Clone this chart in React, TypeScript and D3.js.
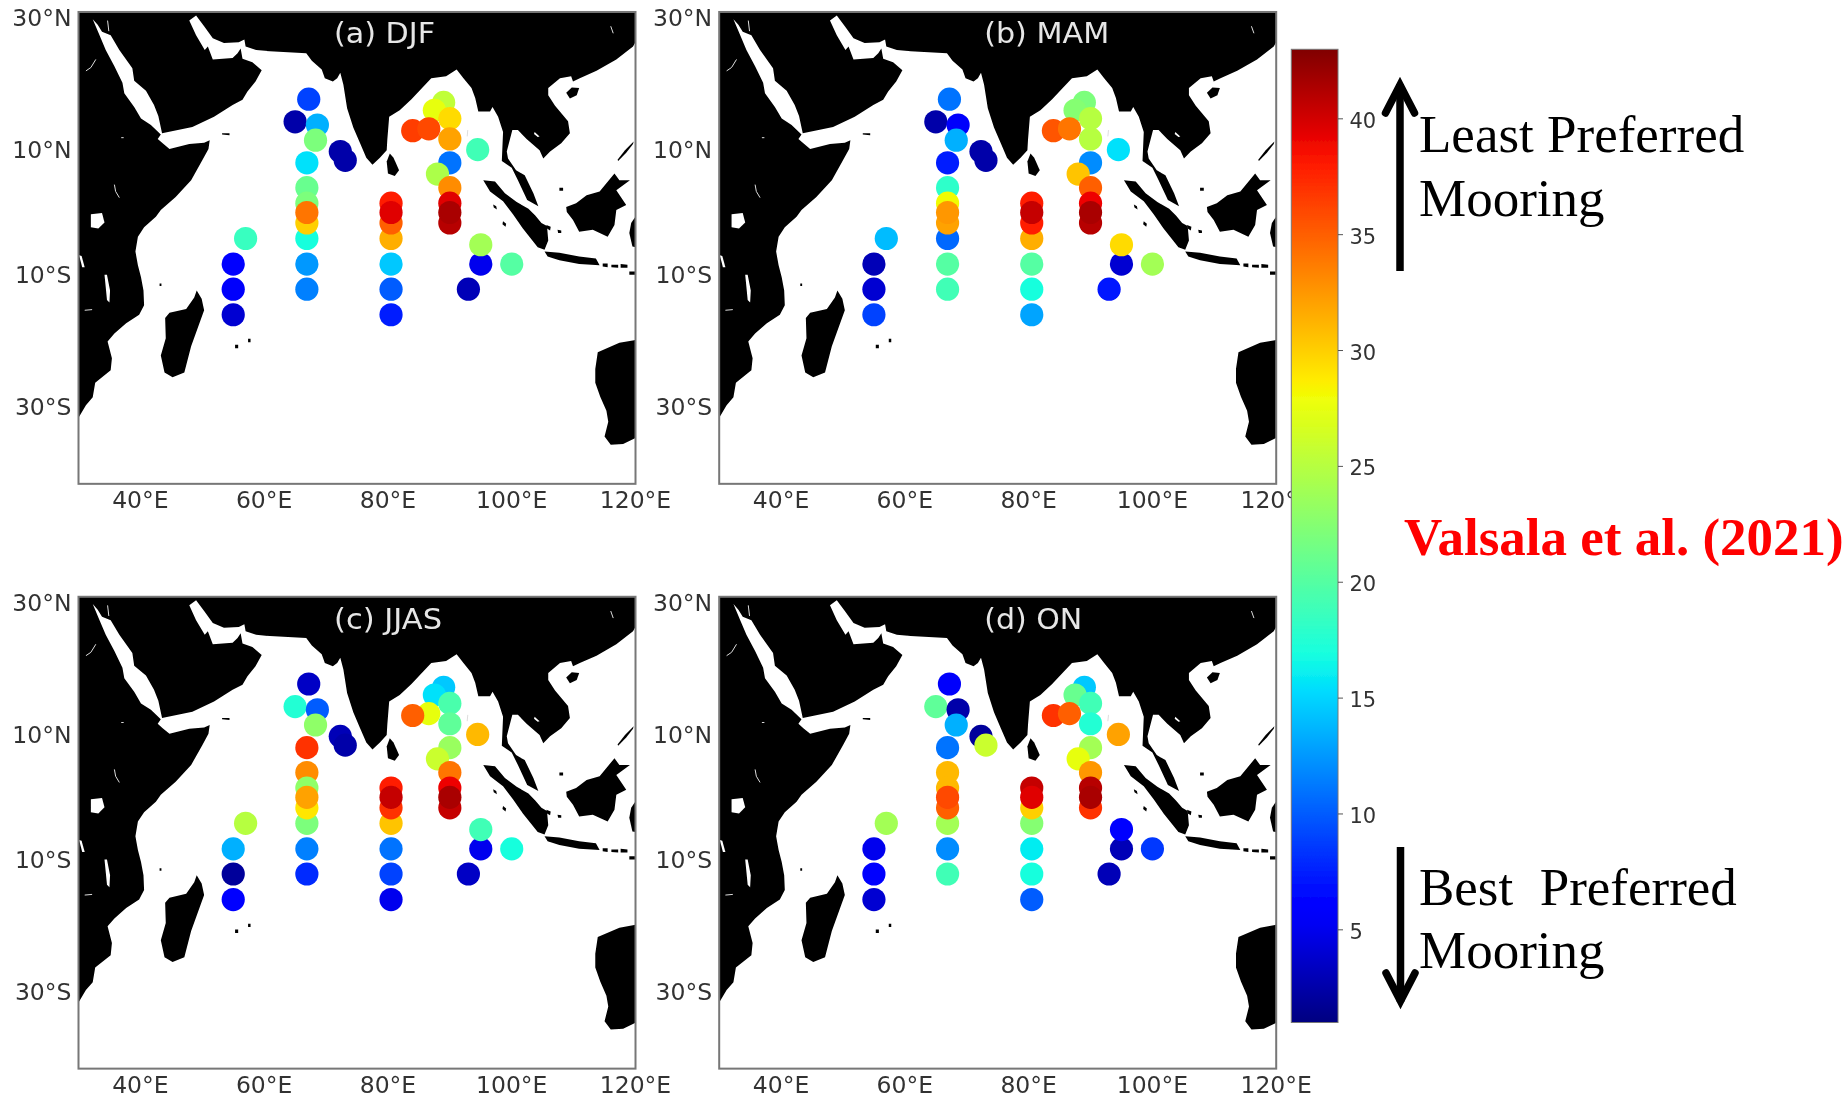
import React from 'react'
import * as d3 from 'd3'

// ---- data ----
const seasons = ['(a) DJF', '(b) MAM', '(c) JJAS', '(d) ON']
const titleWidths = [101, 125, 108, 98]
const lonTicks = [40, 60, 80, 100, 120]
const latTicks = [30, 10, -10, -30]
const barTicks = [5, 10, 15, 20, 25, 30, 35, 40]

// moorings, listed in drawing order
const stationLons = [
	67.2, 65, 68.6, 68.3, 72.3, 73.1,
	66.9, 66.9, 66.9, 66.9, 66.9, 66.9, 66.9, 66.9,
	80.5, 80.5, 80.5, 80.5, 80.5, 80.5, 80.5,
	55, 55, 55, 57,
	89, 87.5, 90, 90, 84, 86.6, 90, 88, 90, 90, 90, 90,
	94.5, 95, 95, 100, 93,
]
const stationLats = [
	18, 14.5, 14, 11.6, 9.8, 8.4,
	8, 4, -8.3, -12.3, -4.2, 1.5, -1.7, 0,
	-16.3, -12.3, -8.3, -4.2, 1.5, -1.7, 0,
	-16.3, -12.3, -8.3, -4.2,
	17.5, 16.3, 15, 11.8, 13.1, 13.4, 8, 6.2, 4, 1.5, -1.7, 0,
	10.1, -8.3, -5.2, -8.3, -12.3,
]
const valuesDJF = [
	9, 2.5, 13.5, 22, 2.5, 2.5,
	15.5, 21, 12.5, 11.5, 17, 22, 30, 34,
	7.5, 10, 14.5, 31.5, 38, 35, 39.5,
	4, 5.5, 6, 18.5,
	25.5, 27.5, 29.5, 32, 36.5, 36, 11, 24.5, 33, 39.5, 41, 41.5,
	19, 5, 24, 20, 3,
]
const valuesMAM = [
	11, 2.5, 5.5, 13.5, 2.5, 2.5,
	7.5, 18, 20, 19, 10.5, 28, 32, 32.5,
	13, 17, 20, 31.5, 38, 38, 40.5,
	9, 4, 3, 14,
	22, 22.5, 25, 25, 35.5, 34, 12, 30.5, 35, 39, 41, 41.5,
	15.5, 4, 29.5, 24, 7,
]
const valuesJJAS = [
	3.5, 17.5, 10, 23, 3, 2.5,
	37, 33, 11.5, 8, 22, 23, 29, 32,
	5, 9, 11, 30.5, 38, 37, 40.5,
	6, 2, 13.5, 25,
	14.5, 15.5, 19.5, 20.5, 35, 27.5, 23.5, 26, 34, 39, 40.5, 41.5,
	31, 5, 19, 17, 3.5,
]
const valuesON = [
	5.5, 20.5, 2.5, 13.5, 2, 26,
	11, 31, 12, 19, 24, 31, 35, 36,
	10, 17, 16, 22.5, 40.5, 30, 39.5,
	4, 6.5, 5, 24,
	14.5, 21, 19, 17.5, 37, 35, 24, 27.5, 32.5, 41, 37, 41.5,
	32, 3, 6, 8.5, 3,
]
const panelValues = [valuesDJF, valuesMAM, valuesJJAS, valuesON]
// in JJAS the orange Bay of Bengal point sits over its neighbour
const drawLast = [-1, -1, 29, -1]

// coastlines in lon/lat, traced by hand
const mainland: [number, number][] = [
	[29, -31.5], [30.1, -31.3], [31.2, -29.7], [32.3, -28.6], [32.7, -26.5], [35.2, -24.7], [35.4, -22.9], [34.7, -20.4],
	[35.8, -19.2], [37.7, -17.6], [39.8, -16.3], [40.6, -14.8], [40.5, -12.5], [40.1, -10.4], [39.6, -8.5], [39.2, -6.3],
	[39.6, -3.9], [40.6, -2.4], [42.5, -0.7], [43.3, 0.4], [45.7, 2.5], [48.2, 5.2], [50, 8.4], [51, 10.2], [51.2, 11.6],
	[50.3, 11.2], [47.9, 11], [44.7, 10.2], [43.6, 11.1], [42.8, 11.8], [43.3, 12.5],
	// Red Sea, west shore then east shore
	[41.7, 14], [40.1, 15], [39, 16.8], [37.4, 18.9], [37.1, 20.5], [35.8, 23], [34.4, 25.4], [33.4, 27.5], [32.3, 29.8],
	[33.1, 29], [33.8, 28], [35.2, 27.5], [36.6, 25.4], [38.7, 22.7], [39, 20.8], [40.9, 19.3], [42.2, 17.1], [42.9, 15.4], [43.5, 12.7],
	// Arabia and the Gulf
	[48.4, 13.7], [51.9, 15.3], [54.9, 17.1], [56.5, 17.9], [57.3, 19.2], [58.6, 20.7], [59.6, 22.4], [58.1, 23.6], [56.5, 24.1],
	[56.2, 25.6], [55.7, 24.9], [54.9, 24.2], [51.7, 24], [50.9, 25.9], [50.4, 25.4], [49, 27.5], [47.9, 29.6], [49, 30.3],
	[50.3, 28.8], [51.7, 27.1], [53.5, 26.4], [55.9, 26.5], [56.8, 26.9], [57, 25.9], [58.7, 25.4], [60.9, 25.2], [66.8, 24.9],
	// India
	[67.7, 23.8], [69.3, 22.5], [69.8, 21.2], [71.1, 20.7], [71.8, 21.2], [72.3, 22], [72.8, 20.2], [73.4, 16.6], [74.4, 13.6],
	[75.5, 11.1], [76.5, 8.8], [77.5, 7.7], [78.7, 8.8], [79.8, 10], [79.9, 11.7], [80.2, 15.3], [81.9, 16.3], [83.8, 18],
	[85.7, 19.9], [87, 21.2], [89.4, 21.5], [91.1, 22.5],
	// Myanmar, Malaya, Indochina, China
	[92.2, 21.2], [93.5, 19.7], [94.1, 18.2], [94.6, 16.1], [96.5, 16.1], [96.9, 16.8], [97.8, 15.3], [98.6, 12.9], [98.4, 8.3],
	[100, 7.2], [101, 5.2], [102.5, 2], [104.3, 1], [103.5, 3.1], [102.1, 6], [100.7, 6.8], [99.4, 8.7], [99.2, 9.8], [100.1, 13.2],
	[101, 13.2], [102.4, 11.8], [104.5, 10], [105.1, 8.7], [106.2, 9.8], [108, 11.1], [109.4, 12.7], [109.1, 14.6], [107, 17],
	[105.9, 18.6], [105.9, 19.7], [107.8, 21.2], [109.6, 21.5], [109.9, 20.7], [111, 21.2], [113.7, 22.3], [116.9, 24], [119.6, 25.9],
	[120.1, 26.7], [121, 27], [121, 33], [29, 33],
]
const islands: [number, number][][] = [
	// Sri Lanka
	[[80.3, 9.5], [80.9, 8.8], [81.8, 6.8], [81.1, 5.9], [80, 6.3], [79.8, 8.2]],
	// Hainan
	[[108.8, 19], [109.7, 19.8], [110.9, 19.7], [110.5, 18.6], [109.4, 18.1]],
	// Sumatra
	[[95.4, 5.2], [97.3, 5], [98.9, 3.1], [100.8, 1.7], [102.7, 0.6], [103.8, -0.5], [104.8, -1.7], [105.7, -2.2], [105.9, -4.5],
		[105.3, -6], [104.2, -5.6], [101.8, -2.6], [100.2, -0.3], [98.6, 1.8], [96.5, 3.4]],
	// Java and the Sundas
	[[105.3, -6.3], [107.7, -6.5], [110.9, -7.1], [113.6, -7.4], [114.2, -8.5], [110.9, -8.3], [107.7, -7.7], [105.8, -7.1]],
	[[114.7, -8.2], [115.5, -8.2], [115.5, -8.8], [114.7, -8.7]],
	[[116.1, -8.4], [117.2, -8.4], [117.2, -8.9], [116.1, -8.8]],
	[[117.6, -8.3], [118.7, -8.4], [118.7, -8.9], [117.6, -8.9]],
	[[119, -9.5], [120, -9.5], [120, -10], [119, -10]],
	// Borneo
	[[108.8, 0.9], [110.4, 1.5], [112.1, 2.8], [114.2, 3.4], [116.6, 6.3], [117.4, 5.2], [119.1, 5.2], [116.9, 3.6], [118.5, 1.2],
		[116.9, 0.4], [116.6, -2], [115.5, -3.9], [113.1, -2.8], [110.9, -3.1], [109.9, -1.2], [108.9, 0.1]],
	// Celebes
	[[119.9, -0.8], [119.3, -1.7], [119, -3.3], [119.5, -5.5], [120.5, -5.7], [120.5, -0.8]],
	// Palawan
	[[117.2, 8.3], [118.5, 9.6], [119.6, 11], [119.7, 11.4], [118.3, 10], [117.1, 8.5]],
	// small ones
	[[107.7, 4], [108.3, 4], [108.3, 3.5], [107.7, 3.5]],
	[[97, 1.3], [97.5, 1], [97.6, 0.5], [97.1, 0.8]],
	[[98.6, -1.4], [99.1, -1.8], [99, -2.3], [98.5, -1.9]],
	[[105.6, -2], [106.3, -2.3], [106.2, -2.9], [105.7, -2.6]],
	[[107.4, -2.8], [108, -2.9], [108, -3.3], [107.5, -3.3]],
	[[53.2, 12.7], [54.4, 12.7], [54.4, 12.4], [53.2, 12.5]],
	[[55.3, -20.9], [55.8, -20.9], [55.8, -21.4], [55.3, -21.4]],
	[[57.4, -20], [57.8, -20], [57.8, -20.5], [57.4, -20.5]],
	[[43.1, -11.4], [43.4, -11.4], [43.4, -11.8], [43.1, -11.8]],
	// Madagascar
	[[49.1, -12.5], [49.9, -13.8], [50.3, -15.6], [48.2, -21.1], [47.1, -25], [45.2, -25.7], [43.9, -25], [43.3, -22.5], [44.1, -19.9],
		[44, -16.8], [44.7, -16], [47.4, -15.4], [48.7, -13.6]],
	// Australia
	[[121, -19.8], [119.8, -20.2], [117.4, -20.6], [113.9, -22], [113.5, -24.5], [113.5, -26.5], [114.3, -28.5], [115.3, -30.5],
		[115.6, -32], [115, -34], [116, -35.1], [118, -35], [121, -33.8]],
]
const lakes: [number, number][][] = [
	[[32, -0.3], [33.8, -0.1], [34.2, -1.6], [33.2, -2.6], [32, -2.4]],
	[[34.2, -10], [34.6, -10], [35.1, -12.5], [35, -14.4], [34.6, -14], [34.4, -12]],
	[[30.1, -6.9], [30.5, -7], [31, -8.8], [30.6, -8.8]],
	[[103.7, 12.9], [104.5, 12.2], [104.2, 12.1], [103.6, 12.6]],
]
const thinWater: [number, number][][] = [
	[[35.8, 4.5], [36, 3.4], [36.6, 2.4]],
	[[31.2, 22.3], [32, 22.8], [32.8, 24]],
	[[31, -15.6], [32.2, -15.5]],
	[[34.7, 29.6], [34.9, 28.1]],
	[[36.9, 12], [37.3, 12]],
	[[92.9, 13.2], [92.8, 12.2]],
	[[116, 28.8], [116.4, 27.8]],
]

// ---- geometry ----
const projection = d3.geoMercator().scale(354.6).center([30, 0]).translate([78.5, 212.5])
const lonX = (lon: number) => projection([lon, 0])![0]
const latY = (lat: number) => projection([30, lat])![1]
const line = d3.line<[number, number]>().x(d => projection(d)![0]).y(d => projection(d)![1])

const frameLeft = lonX(30)
const frameRight = lonX(120)
const frameTop = latY(30.8)
const frameBottom = latY(-40.1)

const panelDx = 640.7
const panelDy = 584.8

// matplotlib's jet
const rChannel = d3.scaleLinear().domain([0, 0.35, 0.66, 0.89, 1]).range([0, 0, 255, 255, 128]).clamp(true)
const gChannel = d3.scaleLinear().domain([0, 0.125, 0.375, 0.64, 0.91, 1]).range([0, 0, 255, 255, 0, 0]).clamp(true)
const bChannel = d3.scaleLinear().domain([0, 0.11, 0.34, 0.65, 1]).range([128, 255, 255, 0, 0]).clamp(true)
const jet = (t: number) => d3.rgb(rChannel(t), gChannel(t), bChannel(t)).formatHex()

const colorT = d3.scaleLinear().domain([1, 43]).range([0, 1])
const barY = d3.scaleLinear().domain([1, 43]).range([1022.5, 49.3])
const barLeft = 1291.3
const barRight = 1338

const lonLabel = (v: number) => `${v}°E`
const latLabel = (v: number) => (v >= 0 ? `${v}°N` : `${-v}°S`)

function Panel({ index }: { index: number }) {
	const values = panelValues[index]
	const order = d3.range(values.length).filter(i => i !== drawLast[index])
	if (drawLast[index] >= 0) order.push(drawLast[index])
	const dx = index % 2 === 1 ? panelDx : 0
	const dy = index >= 2 ? panelDy : 0
	const clipId = `clip-${index}`

	return (
		<g transform={`translate(${dx},${dy})`}>
			<clipPath id={clipId}>
				<rect x={frameLeft} y={frameTop} width={frameRight - frameLeft} height={frameBottom - frameTop} />
			</clipPath>
			<g clipPath={`url(#${clipId})`}>
				<path d={line(mainland)! + 'Z'} fill="#000" />
				{islands.map((s, i) => (
					<path key={i} d={line(s)! + 'Z'} fill="#000" />
				))}
				{lakes.map((s, i) => (
					<path key={i} d={line(s)! + 'Z'} fill="#fff" />
				))}
				{thinWater.map((s, i) => (
					<path key={i} d={line(s)!} fill="none" stroke="#ddd" strokeWidth={1} />
				))}
				{order.map(i => {
					const [cx, cy] = projection([stationLons[i], stationLats[i]])!
					return <circle key={i} cx={cx} cy={cy} r={11.6} fill={jet(colorT(values[i]))} />
				})}
			</g>
			<rect
				x={frameLeft}
				y={frameTop}
				width={frameRight - frameLeft}
				height={frameBottom - frameTop}
				fill="none"
				stroke="#777"
				strokeWidth={2}
			/>
			<text
				x={index % 2 === 1 ? 343.5 : 334}
				y={index >= 2 ? 44 : 43}
				fontFamily="DejaVu Sans"
				fontSize={28}
				fill="#e6e6e6"
				textLength={titleWidths[index]}
				lengthAdjust="spacingAndGlyphs"
			>
				{seasons[index]}
			</text>
			{lonTicks.map(v => (
				<text
					key={v}
					x={lonX(v)}
					y={frameBottom + 24.5}
					textAnchor="middle"
					fontFamily="DejaVu Sans"
					fontSize={23.5}
					fill="#333"
				>
					{lonLabel(v)}
				</text>
			))}
			{latTicks.map(v => (
				<text
					key={v}
					x={71.5}
					y={latY(v) + 8}
					textAnchor="end"
					fontFamily="DejaVu Sans"
					fontSize={23.5}
					fill="#333"
				>
					{latLabel(v)}
				</text>
			))}
		</g>
	)
}

function Arrow({ x, from, to }: { x: number; from: number; to: number }) {
	const dir = to < from ? 1 : -1
	const wing = to + dir * 33
	return (
		<g fill="none" stroke="#000" strokeWidth={7.5}>
			<line x1={x} x2={x} y1={from} y2={to + dir * 4} />
			<polyline
				points={`${x - 14.5},${wing} ${x},${to + dir * 5} ${x + 14.5},${wing}`}
				strokeLinecap="round"
				strokeLinejoin="miter"
			/>
		</g>
	)
}

export default function App() {
	const stops = d3.range(0, 1.0001, 0.02)
	const serif = 'Liberation Serif'

	return (
		<svg width={1845} height={1100} style={{ position: 'absolute', left: 0, top: 0, background: '#fff' }}>
			<defs>
				<linearGradient id="jet-bar" x1="0" x2="0" y1="1" y2="0">
					{stops.map(t => (
						<stop key={t} offset={t} stopColor={jet(t)} />
					))}
				</linearGradient>
				{/* the reference is an upscaled raster, edges are soft */}
				<filter id="soft" filterUnits="userSpaceOnUse" x="0" y="0" width="1845" height="1100">
					<feGaussianBlur stdDeviation="0.7" />
				</filter>
			</defs>

			<g filter="url(#soft)">
				{seasons.map((_, i) => (
					<Panel key={i} index={i} />
				))}

				{/* colour bar */}
				<rect
					x={barLeft}
					y={barY(43)}
					width={barRight - barLeft}
					height={barY(1) - barY(43)}
					fill="url(#jet-bar)"
					stroke="#777"
					strokeWidth={1}
				/>
				{barTicks.map(v => (
					<g key={v}>
						<line x1={barRight} x2={barRight + 5} y1={barY(v)} y2={barY(v)} stroke="#555" strokeWidth={1} />
						<text x={barRight + 11.5} y={barY(v) + 9} fontFamily="DejaVu Sans" fontSize={21} fill="#333">
							{v}
						</text>
					</g>
				))}
			</g>

			{/* annotations */}
			<Arrow x={1400} from={271} to={80} />
			<Arrow x={1400.5} from={847} to={1006} />
			<g fontFamily={serif} fontSize={53} fill="#000">
				<text x={1419} y={152}>Least Preferred</text>
				<text x={1419} y={216}>Mooring</text>
				<text x={1419} y={905} style={{ whiteSpace: 'pre' }}>Best  Preferred</text>
				<text x={1419} y={968}>Mooring</text>
			</g>
			<text x={1404} y={555} fontFamily={serif} fontWeight="bold" fontSize={53} fill="#ff0000">
				Valsala et al. (2021)
			</text>
		</svg>
	)
}
